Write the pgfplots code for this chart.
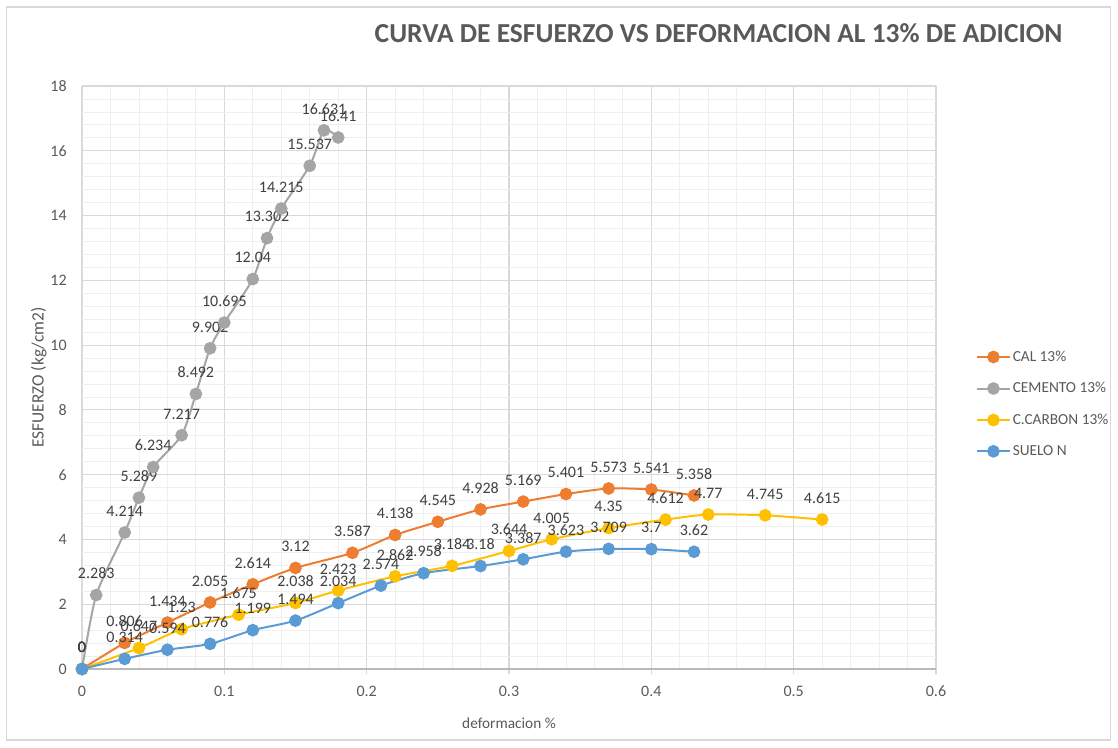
\documentclass[border=0pt]{standalone}
\usepackage{fontspec}
\setmainfont{Carlito}
\usepackage{pgfplots}
\pgfplotsset{compat=1.18}
\definecolor{calc}{HTML}{ED7D31}
\definecolor{cemc}{HTML}{A5A5A5}
\definecolor{carc}{HTML}{FFC000}
\definecolor{suec}{HTML}{5B9BD5}
\definecolor{txt}{HTML}{595959}
\definecolor{lbl}{HTML}{404040}
\definecolor{majg}{HTML}{D9D9D9}
\definecolor{ming}{HTML}{EFEFEF}
\begin{document}
\begin{tikzpicture}[x=1pt,y=1pt]
\useasboundingbox (0,0) rectangle (838.5,560.25);
\draw[majg,line width=0.8pt] (5,5.25) rectangle (833,555);
\node[font=\fontsize{20.6}{24}\selectfont\bfseries,text=txt] at (539,535.5) {CURVA DE ESFUERZO VS DEFORMACION AL 13\% DE ADICION};
\begin{axis}[
  at={(61.5pt,58.5pt)}, anchor=south west,
  scale only axis, width=640.5pt, height=437.25pt,
  xmin=0, xmax=0.6, ymin=0, ymax=18,
  xtick={0,0.1,0.2,0.3,0.4,0.5,0.6}, ytick={0,2,...,18},
  minor xtick={0.02,0.04,0.06,0.08,0.12,0.14,0.16,0.18,0.22,0.24,0.26,0.28,0.32,0.34,0.36,0.38,0.42,0.44,0.46,0.48,0.52,0.54,0.56,0.58},
  minor y tick num=4,
  grid=both,
  major grid style={majg, line width=0.8pt},
  minor grid style={ming, line width=0.6pt},
  axis line style={draw=none},
  major tick length=4pt, minor tick length=0pt,
  tick align=outside,
  xtick style={draw=majg, line width=0.8pt},
  ytick style={draw=none},
  xtick pos=bottom,
  /pgf/number format/assume math mode=true,
  ticklabel style={font=\fontsize{12}{14}\selectfont, text=txt},
  xticklabel style={yshift=-5pt},
  yticklabel style={xshift=-4pt},
  xticklabels={0,0.1,0.2,0.3,0.4,0.5,0.6},
  yticklabels={0,2,4,6,8,10,12,14,16,18},
  xlabel={deformacion \%},
  ylabel={ESFUERZO (kg/cm2)},
  xlabel style={font=\fontsize{11.5}{13}\selectfont, text=txt, yshift=-9pt},
  ylabel style={font=\fontsize{13}{15}\selectfont, text=txt, yshift=-4pt},
  legend style={at={(1.042,0.4545)}, anchor=west, draw=none, fill=none,
    font=\fontsize{11.5}{13}\selectfont, text=txt, row sep=10.3pt,
    legend cell align=left, nodes={inner xsep=1.5pt}},
  legend image code/.code={\draw[mark repeat=2,mark phase=2] plot coordinates {(0cm,0cm) (0.43cm,0cm) (0.86cm,0cm)};},
  nodes near coords, point meta=explicit symbolic,
  every node near coord/.append style={font=\fontsize{12}{14}\selectfont, text=lbl, yshift=8pt},
  every axis plot/.append style={line width=1.5pt, smooth, tension=0.4, mark=*, mark size=4pt},
]
\draw[gray!55, line width=0.8pt] (axis cs:0,0) -- (axis cs:0.6,0);
\addplot[calc, mark options={fill=calc, draw=calc}] coordinates {
(0,0) [0] (0.03,0.806) [0.806] (0.06,1.434) [1.434] (0.09,2.055) [2.055]
(0.12,2.614) [2.614] (0.15,3.12) [3.12] (0.19,3.587) [3.587] (0.22,4.138) [4.138]
(0.25,4.545) [4.545] (0.28,4.928) [4.928] (0.31,5.169) [5.169] (0.34,5.401) [5.401]
(0.37,5.573) [5.573] (0.40,5.541) [5.541] (0.43,5.358) [5.358]};
\addlegendentry{CAL 13\%}
\addplot[cemc, mark options={fill=cemc, draw=cemc}] coordinates {
(0,0) [0] (0.01,2.283) [2.283] (0.03,4.214) [4.214] (0.04,5.289) [5.289]
(0.05,6.234) [6.234] (0.07,7.217) [7.217] (0.08,8.492) [8.492] (0.09,9.902) [9.902]
(0.10,10.695) [10.695] (0.12,12.04) [12.04] (0.13,13.302) [13.302] (0.14,14.215) [14.215]
(0.16,15.537) [15.537] (0.17,16.631) [16.631] (0.18,16.41) [16.41]};
\addlegendentry{CEMENTO 13\%}
\addplot[carc, mark options={fill=carc, draw=carc}] coordinates {
(0,0) [0] (0.04,0.647) [0.647] (0.07,1.23) [1.23] (0.11,1.675) [1.675]
(0.15,2.038) [2.038] (0.18,2.423) [2.423] (0.22,2.862) [2.862] (0.26,3.184) [3.184]
(0.30,3.644) [3.644] (0.33,4.005) [4.005] (0.37,4.35) [4.35] (0.41,4.612) [4.612]
(0.44,4.77) [4.77] (0.48,4.745) [4.745] (0.52,4.615) [4.615]};
\addlegendentry{C.CARBON 13\%}
\addplot[suec, mark options={fill=suec, draw=suec}] coordinates {
(0,0) [0] (0.03,0.314) [0.314] (0.06,0.594) [0.594] (0.09,0.776) [0.776]
(0.12,1.199) [1.199] (0.15,1.494) [1.494] (0.18,2.034) [2.034] (0.21,2.574) [2.574]
(0.24,2.958) [2.958] (0.28,3.18) [3.18] (0.31,3.387) [3.387] (0.34,3.623) [3.623]
(0.37,3.709) [3.709] (0.40,3.7) [3.7] (0.43,3.62) [3.62]};
\addlegendentry{SUELO N}
\end{axis}
\end{tikzpicture}
\end{document}
